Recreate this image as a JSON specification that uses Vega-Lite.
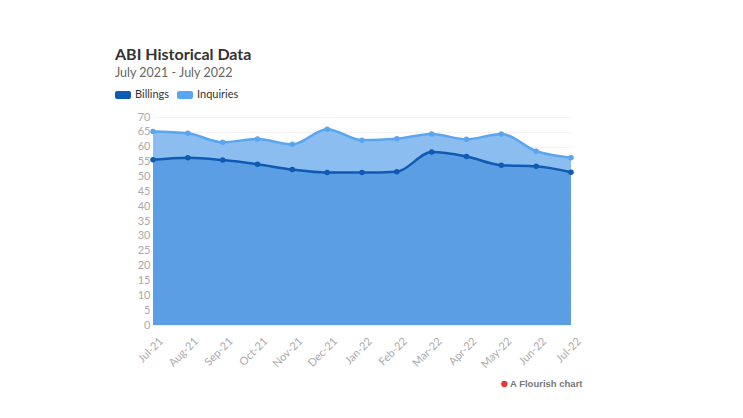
{
  "$schema": "https://vega.github.io/schema/vega-lite/v6.json",
  "width": 418,
  "height": 208,
  "autosize": {"type": "none"},
  "padding": {"left": 153, "top": 117, "right": 172, "bottom": 93},
  "background": "white",
  "config": {
    "view": {"stroke": null},
    "font": "Lato"
  },
  "title": {
    "text": "ABI Historical Data",
    "subtitle": "July 2021 - July 2022",
    "anchor": "start",
    "frame": "group",
    "dx": -38,
    "offset": 8,
    "font": "Lato",
    "fontSize": 16,
    "fontWeight": "bold",
    "color": "#333333",
    "subtitleFont": "Lato",
    "subtitleFontSize": 12.5,
    "subtitleColor": "#666666",
    "subtitlePadding": 4
  },
  "data": {
    "values": [
      {"month": "Jul-21", "series": "Billings", "value": 55.6},
      {"month": "Aug-21", "series": "Billings", "value": 56.3},
      {"month": "Sep-21", "series": "Billings", "value": 55.5},
      {"month": "Oct-21", "series": "Billings", "value": 54.1},
      {"month": "Nov-21", "series": "Billings", "value": 52.3},
      {"month": "Dec-21", "series": "Billings", "value": 51.3},
      {"month": "Jan-22", "series": "Billings", "value": 51.3},
      {"month": "Feb-22", "series": "Billings", "value": 51.6},
      {"month": "Mar-22", "series": "Billings", "value": 58.2},
      {"month": "Apr-22", "series": "Billings", "value": 56.7},
      {"month": "May-22", "series": "Billings", "value": 53.8},
      {"month": "Jun-22", "series": "Billings", "value": 53.4},
      {"month": "Jul-22", "series": "Billings", "value": 51.4},
      {"month": "Jul-21", "series": "Inquiries", "value": 65.1},
      {"month": "Aug-21", "series": "Inquiries", "value": 64.5},
      {"month": "Sep-21", "series": "Inquiries", "value": 61.5},
      {"month": "Oct-21", "series": "Inquiries", "value": 62.6},
      {"month": "Nov-21", "series": "Inquiries", "value": 60.8},
      {"month": "Dec-21", "series": "Inquiries", "value": 65.9},
      {"month": "Jan-22", "series": "Inquiries", "value": 62.2},
      {"month": "Feb-22", "series": "Inquiries", "value": 62.7},
      {"month": "Mar-22", "series": "Inquiries", "value": 64.3},
      {"month": "Apr-22", "series": "Inquiries", "value": 62.5},
      {"month": "May-22", "series": "Inquiries", "value": 64.3},
      {"month": "Jun-22", "series": "Inquiries", "value": 58.5},
      {"month": "Jul-22", "series": "Inquiries", "value": 56.3}
    ]
  },
  "encoding": {
    "x": {
      "field": "month",
      "type": "ordinal",
      "sort": null,
      "scale": {"type": "point", "padding": 0},
      "axis": {
        "title": "A Flourish chart",
        "titleX": 429,
        "titleY": 58,
        "titleAlign": "right",
        "titleBaseline": "middle",
        "titleAnchor": null,
        "titleFont": "Liberation Sans",
        "titleFontSize": 9.5,
        "titleFontWeight": "bold",
        "titleColor": "#777777",
        "labelAngle": -45,
        "labelColor": "#aaaaaa",
        "labelFontSize": 11,
        "labelPadding": 10,
        "labelOffset": 4,
        "ticks": false,
        "domain": false,
        "grid": false
      }
    },
    "y": {
      "field": "value",
      "type": "quantitative",
      "scale": {"domain": [0, 70]},
      "stack": null,
      "axis": {
        "values": [0, 5, 10, 15, 20, 25, 30, 35, 40, 45, 50, 55, 60, 65, 70],
        "title": "●",
        "titleAngle": 0,
        "titleX": 351,
        "titleY": 266,
        "titleAlign": "center",
        "titleBaseline": "middle",
        "titleColor": "#e03a3a",
        "titleFontSize": 13,
        "labelColor": "#aaaaaa",
        "labelFontSize": 11,
        "labelPadding": 3,
        "ticks": false,
        "domain": false,
        "gridColor": "#f2f2f2",
        "gridWidth": 1
      }
    }
  },
  "layer": [
    {
      "transform": [{"filter": "datum.series === 'Inquiries'"}],
      "mark": {"type": "area", "interpolate": "monotone", "color": "#8bbdf0", "opacity": 1}
    },
    {
      "transform": [{"filter": "datum.series === 'Billings'"}],
      "mark": {"type": "area", "interpolate": "monotone", "color": "#5b9ee3", "opacity": 1}
    },
    {
      "transform": [{"filter": "datum.series === 'Inquiries'"}],
      "mark": {"type": "line", "interpolate": "monotone", "strokeWidth": 2.5, "color": "#5aa5ef"}
    },
    {
      "transform": [{"filter": "datum.series === 'Billings'"}],
      "mark": {"type": "line", "interpolate": "monotone", "strokeWidth": 2.5, "color": "#0f5ab3"}
    },
    {
      "mark": {"type": "point", "filled": true, "size": 30, "opacity": 1},
      "encoding": {
        "color": {
          "field": "series",
          "type": "nominal",
          "scale": {"domain": ["Billings", "Inquiries"], "range": ["#0f5ab3", "#5aa5ef"]},
          "legend": {
            "title": null,
            "orient": "none",
            "legendX": -38,
            "legendY": -30,
            "direction": "horizontal",
            "padding": 0,
            "symbolType": "M-0.75,-0.5 L0.75,-0.5 A0.25,0.25 0 0 1 1,-0.25 L1,0.25 A0.25,0.25 0 0 1 0.75,0.5 L-0.75,0.5 A0.25,0.25 0 0 1 -1,0.25 L-1,-0.25 A0.25,0.25 0 0 1 -0.75,-0.5 Z",
            "symbolSize": 256,
            "symbolStrokeWidth": 0,
            "symbolOpacity": 1,
            "labelFont": "Lato",
            "labelFontSize": 11,
            "labelColor": "#333333",
            "labelOffset": 4,
            "columnPadding": 7
          }
        }
      }
    }
  ]
}
